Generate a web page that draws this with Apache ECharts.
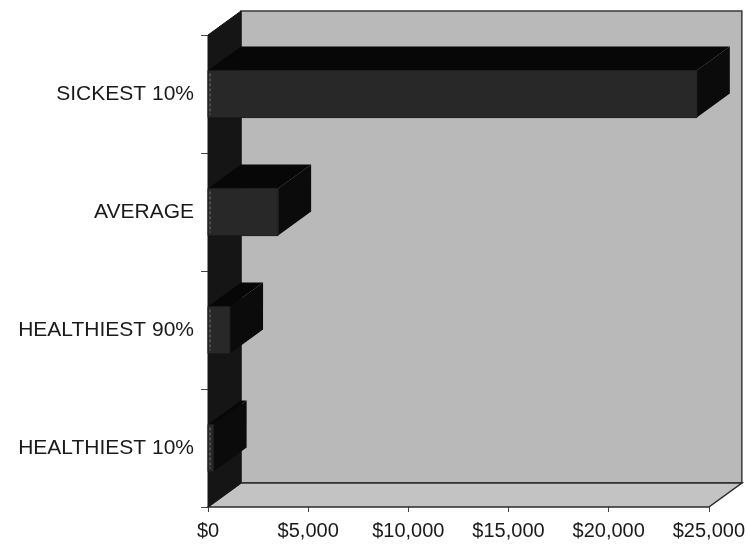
<!DOCTYPE html>
<html>
<head>
<meta charset="utf-8">
<script src="https://cdn.jsdelivr.net/npm/echarts@6/dist/echarts.min.js"></script>
<style>
  html, body { margin: 0; padding: 0; background: #fff; }
  #chart { width: 748px; height: 548px; }
</style>
</head>
<body>
<div id="chart"></div>
<script>
var myChart = echarts.init(document.getElementById("chart"));

// categories bottom -> top
var groups = ['HEALTHIEST 10%', 'HEALTHIEST 90%', 'AVERAGE', 'SICKEST 10%'];
// spending per person, dollars
var spending = [280, 1100, 3500, 24400];
var xTicks = [0, 5000, 10000, 15000, 20000, 25000];

// 3d depth offset of the box
var DX = 33, DY = -24;

var barData = [];
for (var i = 0; i < spending.length; i++) {
    barData.push([spending[i], i]);
}

function renderWalls(params, api) {
    var c = params.coordSys;
    var x = c.x, y = c.y, w = c.width, h = c.height;
    return {
        type: 'group',
        children: [
            {   // back wall
                type: 'polygon',
                shape: { points: [[x + DX, y + DY], [x + w + DX, y + DY], [x + w + DX, y + h + DY], [x + DX, y + h + DY]] },
                style: { fill: '#b9b9b9', stroke: '#3a3a3a', lineWidth: 1.5 }
            },
            {   // floor
                type: 'polygon',
                shape: { points: [[x, y + h], [x + w, y + h], [x + w + DX, y + h + DY], [x + DX, y + h + DY]] },
                style: { fill: '#c3c3c3', stroke: '#2a2a2a', lineWidth: 1.5 }
            },
            {   // left side wall
                type: 'polygon',
                shape: { points: [[x, y], [x + DX, y + DY], [x + DX, y + h + DY], [x, y + h]] },
                style: { fill: '#151515', stroke: '#151515', lineWidth: 1 }
            }
        ]
    };
}

function renderBar(params, api) {
    var v = api.value(0), idx = api.value(1);
    var p0 = api.coord([0, idx]);
    var p1 = api.coord([v, idx]);
    var hh = api.size([0, 1])[1] * 0.2;
    var x0 = p0[0], x1 = p1[0], yt = p1[1] - hh, yb = p1[1] + hh;
    return {
        type: 'group',
        children: [
            {   // top face
                type: 'polygon',
                shape: { points: [[x0, yt], [x1, yt], [x1 + DX, yt + DY], [x0 + DX, yt + DY]] },
                style: { fill: '#070707' }
            },
            {   // right side
                type: 'polygon',
                shape: { points: [[x1, yt], [x1 + DX, yt + DY], [x1 + DX, yb + DY], [x1, yb]] },
                style: { fill: '#0b0b0b' }
            },
            {   // front face
                type: 'rect',
                shape: { x: x0, y: yt, width: x1 - x0, height: yb - yt },
                style: { fill: '#282828', stroke: '#1c1c1c', lineWidth: 1 }
            },
            {   // faint light edge on the left of the front face
                type: 'line',
                shape: { x1: x0 + 2, y1: yt + 3, x2: x0 + 2, y2: yb - 3 },
                style: { stroke: '#777', lineWidth: 1, lineDash: [3, 2] }
            }
        ]
    };
}

myChart.setOption({
    animation: false,
    backgroundColor: '#fff',
    grid: {
        left: 208,
        right: 36,
        top: 35,
        bottom: 41
    },
    xAxis: {
        type: 'value',
        min: xTicks[0],
        max: xTicks[xTicks.length - 1],
        interval: 5000,
        splitLine: { show: false },
        axisLine: { show: false },
        axisTick: { show: true, length: 5, lineStyle: { color: '#444' } },
        axisLabel: {
            margin: 14,
            color: '#1a1a1a',
            fontFamily: 'Liberation Sans',
            fontSize: 20,
            formatter: function (val) {
                return '$' + val.toLocaleString('en-US');
            }
        }
    },
    yAxis: {
        type: 'category',
        data: groups,
        axisLine: { show: false },
        axisTick: { show: true, length: 7, lineStyle: { color: '#444' } },
        axisLabel: {
            margin: 14,
            color: '#1a1a1a',
            fontFamily: 'Liberation Sans',
            fontSize: 21
        }
    },
    series: [
        {
            type: 'custom',
            renderItem: renderWalls,
            data: [[0, 0]],
            silent: true,
            z: 1
        },
        {
            type: 'custom',
            renderItem: renderBar,
            encode: { x: 0, y: 1 },
            data: barData,
            z: 3
        }
    ]
});
</script>
</body>
</html>
